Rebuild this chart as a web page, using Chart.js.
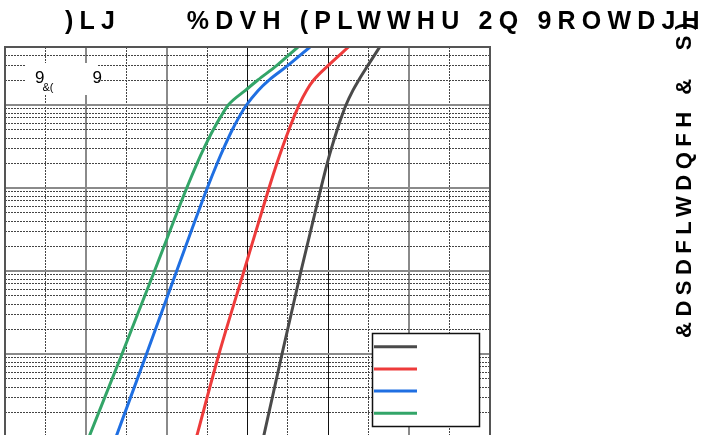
<!DOCTYPE html>
<html>
<head>
<meta charset="utf-8">
<script src="https://cdn.jsdelivr.net/npm/chart.js@4.4.1/dist/chart.umd.min.js"></script>
<style>
html,body{margin:0;padding:0;overflow:hidden;background:#ffffff;}
#wrap{position:absolute;left:0;top:0;width:704px;height:445px;}
</style>
</head>
<body>
<div id="wrap"><canvas id="c" width="704" height="445"></canvas></div>
<script>
// ---- texts (as rendered in the reference) ----
const titleText = ')LJ     %DVH (PLWWHU 2Q 9ROWDJH';
const yAxisTitle = '&DSDFLWDQFH &  S)';
const noteMain = '9';
const noteSub = '&(';
const noteEnd = '9';

// ---- axes ----
const xTicks = [0, 0.1, 0.2, 0.3, 0.4, 0.5, 0.6, 0.7, 0.8, 0.9, 1.0, 1.1, 1.2];
const yTicks = [0.01, 0.02, 0.03, 0.04, 0.05, 0.06, 0.07, 0.08, 0.09,
                0.1, 0.2, 0.3, 0.4, 0.5, 0.6, 0.7, 0.8, 0.9,
                1, 2, 3, 4, 5, 6, 7, 8, 9,
                10, 20, 30, 40, 50, 60, 70, 80, 90,
                100, 200, 300, 400, 500];

// ---- series (y values shared, x values per curve) ----
const seriesY = [0.01, 0.1, 1, 10, 20, 30, 50, 70, 100, 150, 200, 300, 500];
const grayX  = [0.6396, 0.6854, 0.7324, 0.7818, 0.7974, 0.8076, 0.8217, 0.8318, 0.8437, 0.8608, 0.8754, 0.8979, 0.9271];
const redX   = [0.4738, 0.5295, 0.5913, 0.6532, 0.6730, 0.6854, 0.7022, 0.7141, 0.7274, 0.7462, 0.7638, 0.7999, 0.8499];
const blueX  = [0.2746, 0.3501, 0.4248, 0.5005, 0.5253, 0.5409, 0.5621, 0.5780, 0.5975, 0.6265, 0.6532, 0.7002, 0.7546];
const greenX = [0.2078, 0.2895, 0.3699, 0.4496, 0.4755, 0.4921, 0.5149, 0.5320, 0.5525, 0.5948, 0.6257, 0.6727, 0.7249];

const seriesColors = ['#4a4a4a', '#ee3b3b', '#1f6fe2', '#33a568'];
const seriesX = [grayX, redX, blueX, greenX];

const datasets = seriesX.map((xs, i) => ({
  label: '',
  data: xs.map((x, k) => ({x: x, y: seriesY[k]})),
  borderColor: seriesColors[i],
  borderWidth: 3,
  pointRadius: 0,
  fill: false,
  showLine: true,
  cubicInterpolationMode: 'monotone'
}));

const FONT = '"Liberation Sans", Arial, Helvetica, sans-serif';
const isDecade = v => Math.abs(Math.log10(v) - Math.round(Math.log10(v))) < 1e-9;

const decor = {
  id: 'decor',
  afterDraw(chart) {
    const ctx = chart.ctx;
    const a = chart.chartArea;
    ctx.save();
    // plot frame
    ctx.strokeStyle = '#555555';
    ctx.lineWidth = 2;
    ctx.strokeRect(a.left, a.top, a.right - a.left, a.bottom - a.top);

    // annotation box
    ctx.fillStyle = '#ffffff';
    ctx.fillRect(a.left + 20, a.top + 16, 72, 32);
    ctx.fillStyle = '#000000';
    ctx.textBaseline = 'alphabetic';
    ctx.textAlign = 'left';
    ctx.font = '17px ' + FONT;
    ctx.fillText(noteMain, a.left + 30, a.top + 35.5);
    ctx.fillText(noteEnd, a.left + 87.5, a.top + 35.5);
    ctx.font = '11px ' + FONT;
    ctx.fillText(noteSub, a.left + 37.5, a.top + 44);

    // legend box
    const lx = 372.5, ly = 333.5, lw = 107, lh = 93;
    ctx.fillStyle = '#ffffff';
    ctx.fillRect(lx, ly, lw, lh);
    ctx.strokeStyle = '#111111';
    ctx.lineWidth = 1.5;
    ctx.strokeRect(lx, ly, lw, lh);
    chart.data.datasets.forEach((ds, i) => {
      const yy = ly + 13.2 + i * 22.2;
      ctx.strokeStyle = ds.borderColor;
      ctx.lineWidth = 3;
      ctx.beginPath();
      ctx.moveTo(lx + 1.5, yy);
      ctx.lineTo(lx + 44.5, yy);
      ctx.stroke();
    });

    // title
    ctx.fillStyle = '#000000';
    ctx.font = 'bold 25px ' + FONT;
    ctx.letterSpacing = '6.2px';
    ctx.textAlign = 'left';
    ctx.fillText(titleText, 65, 29);

    // right axis title (reads bottom to top)
    ctx.save();
    ctx.font = 'bold 22px ' + FONT;
    ctx.letterSpacing = '5.5px';
    ctx.translate(691, 338);
    ctx.rotate(-Math.PI / 2);
    ctx.fillText(yAxisTitle, 0, 0);
    ctx.restore();

    ctx.letterSpacing = '0px';
    ctx.restore();
  }
};

new Chart(document.getElementById('c'), {
  type: 'scatter',
  data: { datasets: datasets },
  options: {
    responsive: false,
    animation: false,
    devicePixelRatio: 1,
    layout: { padding: { left: 5, top: 47, right: 214, bottom: 8 } },
    plugins: { legend: { display: false }, tooltip: { enabled: false }, title: { display: false } },
    scales: {
      x: {
        type: 'linear', min: 0, max: 1.2,
        afterBuildTicks: s => { s.ticks = xTicks.map(v => ({value: v})); },
        ticks: { display: false },
        grid: {
          drawTicks: false,
          color: c => (c.index % 2 === 0) ? ((c.index === 6 || c.index === 8) ? '#111111' : '#8a8a8a') : '#444444',
          lineWidth: c => (c.index % 2 === 0) ? ((c.index === 6 || c.index === 8) ? 1 : 2) : 1
        },
        border: { display: false, dash: c => (c.index % 2 === 0) ? [] : [2, 1] }
      },
      y: {
        type: 'logarithmic', min: 0.01, max: 500, position: 'right',
        afterBuildTicks: s => { s.ticks = yTicks.map(v => ({value: v})); },
        ticks: { display: false },
        grid: {
          drawTicks: false,
          color: c => (c.tick && isDecade(c.tick.value)) ? '#8a8a8a' : '#444444',
          lineWidth: c => (c.tick && isDecade(c.tick.value)) ? 2 : 1
        },
        border: { display: false, dash: c => (c.tick && isDecade(c.tick.value)) ? [] : [2, 1] }
      }
    }
  },
  plugins: [decor]
});
</script>
</body>
</html>
